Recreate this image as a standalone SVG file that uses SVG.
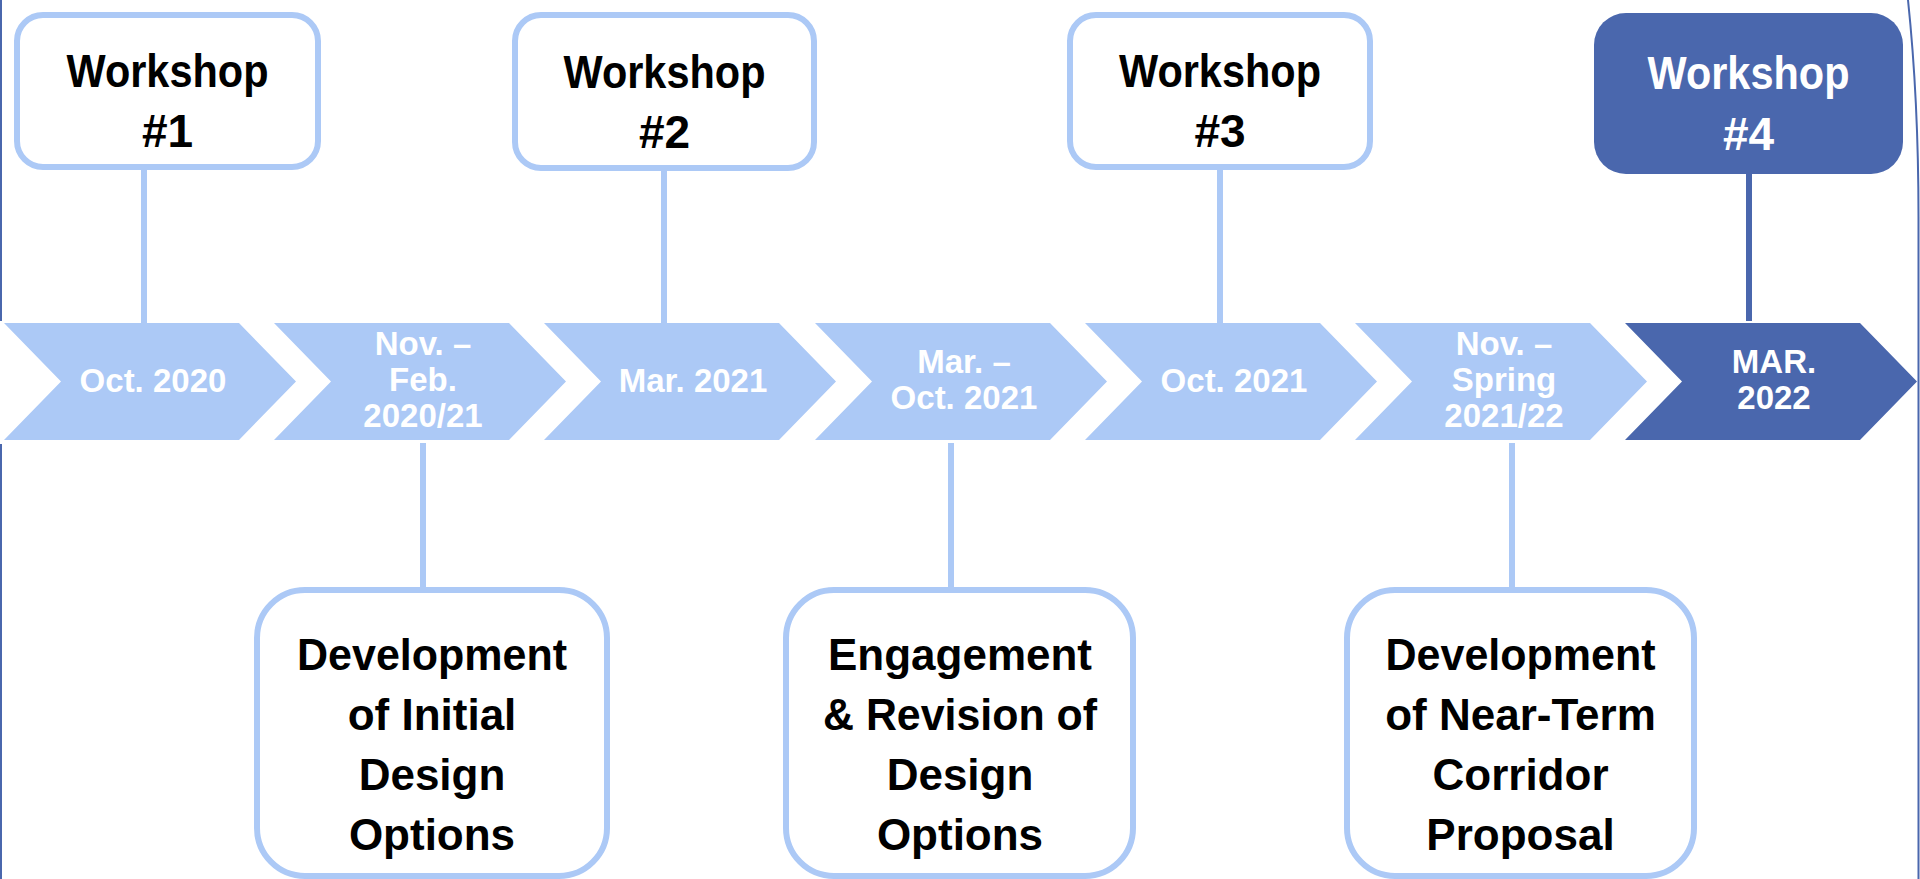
<svg xmlns="http://www.w3.org/2000/svg" xmlns:xlink="http://www.w3.org/1999/xlink" width="1920" height="879" viewBox="0 0 1920 879">
  <style>
    .box { fill: #ffffff; stroke: #acc9f6; stroke-width: 6; }
    .box-dark { fill: #4a67ad; }
    .chev { fill: #acc9f6; }
    .chev-dark { fill: #4a67ad; }
    .link { stroke: #acc9f6; stroke-width: 6; fill: none; }
    .link-dark { stroke: #4a67ad; stroke-width: 6; fill: none; }
    .frame { stroke: #4a67ad; stroke-width: 2; fill: none; }
    text { font-family: "Liberation Sans", Arial, sans-serif; font-weight: bold; text-anchor: middle; }
    .ws { font-size: 46px; fill: #000000; }
    .ws-light { font-size: 46px; fill: #ffffff; }
    .date { font-size: 33px; fill: #ffffff; }
    .phase { font-size: 44px; fill: #000000; }
  </style>
  <defs>
    <path id="chevron" d="M0,323 H235 L292,381.5 L235,440 H0 L57,381.5 Z"/>
  </defs>

  <rect width="1920" height="879" fill="#ffffff"/>

  <!-- page frame -->
  <g id="frame">
    <path class="frame" d="M1,0 V321 M1,444 V879"/>
    <path class="frame" d="M1908,0 Q1918.5,100 1918.5,217 V879"/>
  </g>

  <!-- connectors -->
  <g id="connectors">
    <line class="link" x1="144" y1="170" x2="144" y2="323"/>
    <line class="link" x1="664" y1="170" x2="664" y2="323"/>
    <line class="link" x1="1220" y1="170" x2="1220" y2="323"/>
    <line class="link-dark" x1="1749" y1="174" x2="1749" y2="321"/>
    <line class="link" x1="423" y1="443" x2="423" y2="587"/>
    <line class="link" x1="951" y1="443" x2="951" y2="587"/>
    <line class="link" x1="1512" y1="443" x2="1512" y2="587"/>
  </g>

  <!-- timeline chevrons -->
  <g id="step-oct-2020">
    <use xlink:href="#chevron" class="chev" transform="translate(4,0)"/>
    <text class="date" x="153" y="392">Oct. 2020</text>
  </g>
  <g id="step-nov-feb">
    <use xlink:href="#chevron" class="chev" transform="translate(274,0)"/>
    <text class="date" x="423" y="355">Nov. –</text>
    <text class="date" x="423" y="391">Feb.</text>
    <text class="date" x="423" y="427">2020/21</text>
  </g>
  <g id="step-mar-2021">
    <use xlink:href="#chevron" class="chev" transform="translate(544,0)"/>
    <text class="date" x="693" y="392">Mar. 2021</text>
  </g>
  <g id="step-mar-oct">
    <use xlink:href="#chevron" class="chev" transform="translate(815,0)"/>
    <text class="date" x="964" y="373">Mar. –</text>
    <text class="date" x="964" y="409">Oct. 2021</text>
  </g>
  <g id="step-oct-2021">
    <use xlink:href="#chevron" class="chev" transform="translate(1085,0)"/>
    <text class="date" x="1234" y="392">Oct. 2021</text>
  </g>
  <g id="step-nov-spring">
    <use xlink:href="#chevron" class="chev" transform="translate(1355,0)"/>
    <text class="date" x="1504" y="355">Nov. –</text>
    <text class="date" x="1504" y="391">Spring</text>
    <text class="date" x="1504" y="427">2021/22</text>
  </g>
  <g id="step-mar-2022">
    <use xlink:href="#chevron" class="chev-dark" transform="translate(1625,0)"/>
    <text class="date" x="1774" y="373">MAR.</text>
    <text class="date" x="1774" y="409">2022</text>
  </g>

  <!-- workshops -->
  <g id="workshop-1">
    <rect class="box" x="17" y="15" width="301" height="152" rx="26"/>
    <text class="ws" x="167.5" y="87" textLength="202" lengthAdjust="spacingAndGlyphs">Workshop</text>
    <text class="ws" x="167.5" y="147">#1</text>
  </g>
  <g id="workshop-2">
    <rect class="box" x="515" y="15" width="299" height="153" rx="26"/>
    <text class="ws" x="664.5" y="88" textLength="202" lengthAdjust="spacingAndGlyphs">Workshop</text>
    <text class="ws" x="664.5" y="148">#2</text>
  </g>
  <g id="workshop-3">
    <rect class="box" x="1070" y="15" width="300" height="152" rx="26"/>
    <text class="ws" x="1220" y="87" textLength="202" lengthAdjust="spacingAndGlyphs">Workshop</text>
    <text class="ws" x="1220" y="147">#3</text>
  </g>
  <g id="workshop-4">
    <rect class="box-dark" x="1594" y="13" width="309" height="161" rx="32"/>
    <text class="ws-light" x="1748.5" y="89" textLength="202" lengthAdjust="spacingAndGlyphs">Workshop</text>
    <text class="ws-light" x="1748.5" y="150">#4</text>
  </g>

  <!-- work phases -->
  <g id="phase-initial-options">
    <rect class="box" x="257" y="590" width="350" height="286" rx="48"/>
    <text class="phase" x="432" y="670" textLength="270" lengthAdjust="spacingAndGlyphs">Development</text>
    <text class="phase" x="432" y="730">of Initial</text>
    <text class="phase" x="432" y="790">Design</text>
    <text class="phase" x="432" y="850">Options</text>
  </g>
  <g id="phase-engagement">
    <rect class="box" x="786" y="590" width="347" height="286" rx="48"/>
    <text class="phase" x="960" y="670">Engagement</text>
    <text class="phase" x="960" y="730" textLength="274" lengthAdjust="spacingAndGlyphs">&amp; Revision of</text>
    <text class="phase" x="960" y="790">Design</text>
    <text class="phase" x="960" y="850">Options</text>
  </g>
  <g id="phase-near-term">
    <rect class="box" x="1347" y="590" width="347" height="286" rx="48"/>
    <text class="phase" x="1520.5" y="670" textLength="270" lengthAdjust="spacingAndGlyphs">Development</text>
    <text class="phase" x="1520.5" y="730">of Near-Term</text>
    <text class="phase" x="1520.5" y="790">Corridor</text>
    <text class="phase" x="1520.5" y="850">Proposal</text>
  </g>
</svg>
